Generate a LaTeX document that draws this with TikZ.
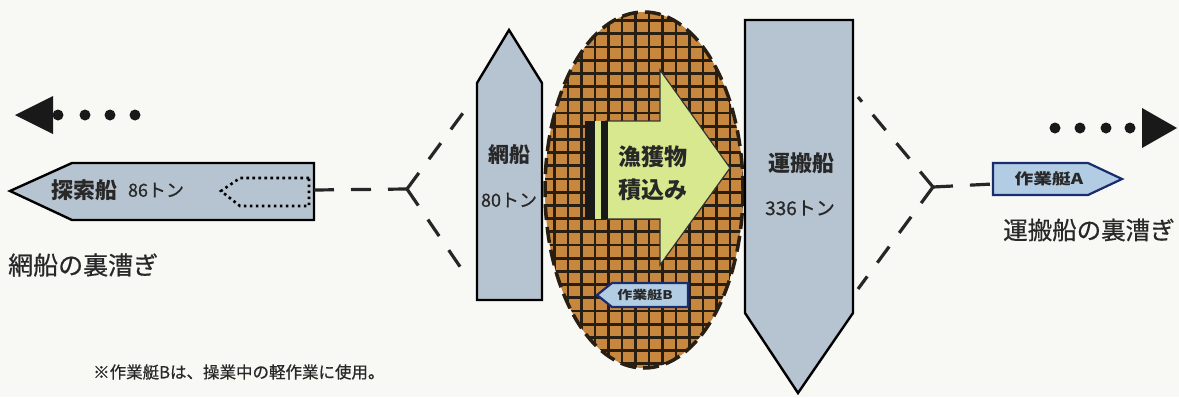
\documentclass[tikz,border=0pt]{standalone}
\usepackage{fontspec}
\newfontfamily\jp{Noto Sans CJK JP}
\newfontfamily\jpm[FakeBold=0.6]{Noto Sans CJK JP}
\newfontfamily\jpw[FakeStretch=1.25]{Noto Sans CJK JP}
\usetikzlibrary{shapes.geometric}
\definecolor{bgc}{RGB}{248,248,245}
\definecolor{shipc}{RGB}{182,195,208}
\definecolor{boatc}{RGB}{178,204,228}
\definecolor{navy}{RGB}{25,45,110}
\definecolor{brownc}{RGB}{200,135,62}
\definecolor{gridc}{RGB}{40,30,18}
\definecolor{arrowc}{RGB}{216,232,142}
\definecolor{txtc}{RGB}{40,40,40}
\tikzset{
  ship/.style={fill=shipc, draw=black, line width=2.4pt, line join=miter},
  boat/.style={fill=boatc, draw=navy, line width=2.2pt, line join=miter},
  conn/.style={draw=black!85, line width=3.2pt, dash pattern=on 20pt off 17pt},
  lbl/.style={text=txtc, inner sep=0pt, font=\jp},
  dotc/.style={fill=black!90, circle, inner sep=0pt, minimum size=11pt},
  gridline/.style={gridc, line width=2.8pt},
}
\begin{document}
\begin{tikzpicture}[x=1pt,y=-1pt]
\fill[bgc] (0,0) rectangle (1179,397);
\useasboundingbox (0,0) rectangle (1179,397);

% ---- fishing zone ellipse with grid
\node[ellipse, inner sep=0pt, outer sep=0pt, minimum width=198pt, minimum height=356pt,
      fill=brownc] (zone) at (644,190) {};
\begin{scope}
  \clip (644,190) ellipse [x radius=99, y radius=178];
  \foreach \i in {-5,...,12} \draw[gridline] ({595+13.5*\i},0) -- ({595+13.5*\i},397);
  \foreach \j in {-9,...,20} \draw[gridline] (530,{113+13.2*\j}) -- (760,{113+13.2*\j});
\end{scope}
\draw[gridc, line width=3.5pt, dash pattern=on 16pt off 7pt] (644,190) ellipse [x radius=99, y radius=178];

% ---- loading arrow
\draw[fill=arrowc, draw=black!80, line width=1.2pt, line join=miter]
  (606,121) -- (660,121) -- (660,70) -- (730,168) -- (660,265) -- (660,219) -- (606,219) -- cycle;
\fill[black!90] (585,121) rectangle (595,219);
\fill[arrowc] (595,121) rectangle (601,219);
\fill[black!90] (601,121) rectangle (608,219);
\node[lbl, font=\jp\bfseries\fontsize{23}{26}\selectfont] (catch1) at (653,157) {漁獲物};
\node[lbl, font=\jp\bfseries\fontsize{23}{26}\selectfont] (catch2) at (653,190) {積込み};

% ---- boat B
\draw[boat] (597,295) -- (612,283) -- (688,283) -- (688,307) -- (612,307) -- cycle;
\node[lbl, font=\jpw\bfseries\fontsize{12}{14}\selectfont] (boatB) at (645,295) {作業艇B};

% ---- search ship
\draw[ship] (10,191) -- (72,163) -- (314,163) -- (314,220) -- (72,220) -- cycle;
\draw[black, line width=2.6pt, dash pattern=on 2.6pt off 3.4pt]
  (309,178) -- (240,178) -- (221,191) -- (240,206) -- (309,206) -- cycle;
\coordinate (searchE) at (314,190);
\node[lbl, font=\jp\bfseries\fontsize{22}{24}\selectfont] (search) at (84,190) {探索船};
\node[lbl, font=\jpm\fontsize{18}{20}\selectfont] (searchT) at (156,190) {86トン};

% ---- net ship
\draw[ship] (477,300) -- (477,83) -- (509,30) -- (542,83) -- (542,300) -- cycle;
\node[lbl, font=\jp\bfseries\fontsize{21}{24}\selectfont] (net) at (509,155) {網船};
\node[lbl, font=\jpm\fontsize{18}{20}\selectfont] (netT) at (509,200) {80トン};

% ---- carrier
\draw[ship] (745,20) -- (853,20) -- (853,313) -- (798,393) -- (745,313) -- cycle;
\node[lbl, font=\jp\bfseries\fontsize{22}{24}\selectfont] (carrier) at (801,163) {運搬船};
\node[lbl, font=\jpm\fontsize{19}{22}\selectfont] (carrierT) at (800,208) {336トン};

% ---- boat A
\draw[boat] (993,163) -- (1088,163) -- (1122,179) -- (1088,195) -- (993,195) -- cycle;
\coordinate (boatAW) at (993,184);
\node[lbl, font=\jpw\bfseries\fontsize{15}{17}\selectfont] (boatA) at (1049,179) {作業艇A};

% ---- connectors (left)
\coordinate (jL) at (407,189);
\coordinate (jLu) at (463,113);
\coordinate (jLd) at (463,271);
\draw[conn] (searchE) -- (jL);
\draw[conn] (jL) -- (jLu);
\draw[conn] (jL) -- (jLd);

% ---- connectors (right)
\coordinate (jR) at (933,187);
\coordinate (jRu) at (858,97);
\coordinate (jRd) at (858,289);
\draw[conn] (jR) -- (jRu);
\draw[conn] (jR) -- (jRd);
\draw[conn] (jR) -- (boatAW);

% ---- direction arrows
\node[dotc] (dl1) at (58,115) {};
\node[dotc] (dl2) at (85,115) {};
\node[dotc] (dl3) at (110,115) {};
\node[dotc] (dl4) at (135,115) {};
\fill[black!90] (15,115) -- (53,96) -- (53,134) -- cycle;
\node[dotc] (dr1) at (1055,128) {};
\node[dotc] (dr2) at (1080,128) {};
\node[dotc] (dr3) at (1106,128) {};
\node[dotc] (dr4) at (1130,128) {};
\fill[black!90] (1177,128) -- (1142,108) -- (1142,148) -- cycle;

% ---- labels
\node[lbl, anchor=west, font=\jpm\fontsize{25}{27}\selectfont] (lnote) at (8,265) {網船の裏漕ぎ};
\node[lbl, anchor=west, font=\jpm\fontsize{24.5}{27}\selectfont] (rnote) at (1003,230) {運搬船の裏漕ぎ};
\node[lbl, anchor=west, font=\jpm\fontsize{16.5}{19}\selectfont] (foot) at (93,372) {※作業艇Bは、操業中の軽作業に使用。};
\end{tikzpicture}
\end{document}
